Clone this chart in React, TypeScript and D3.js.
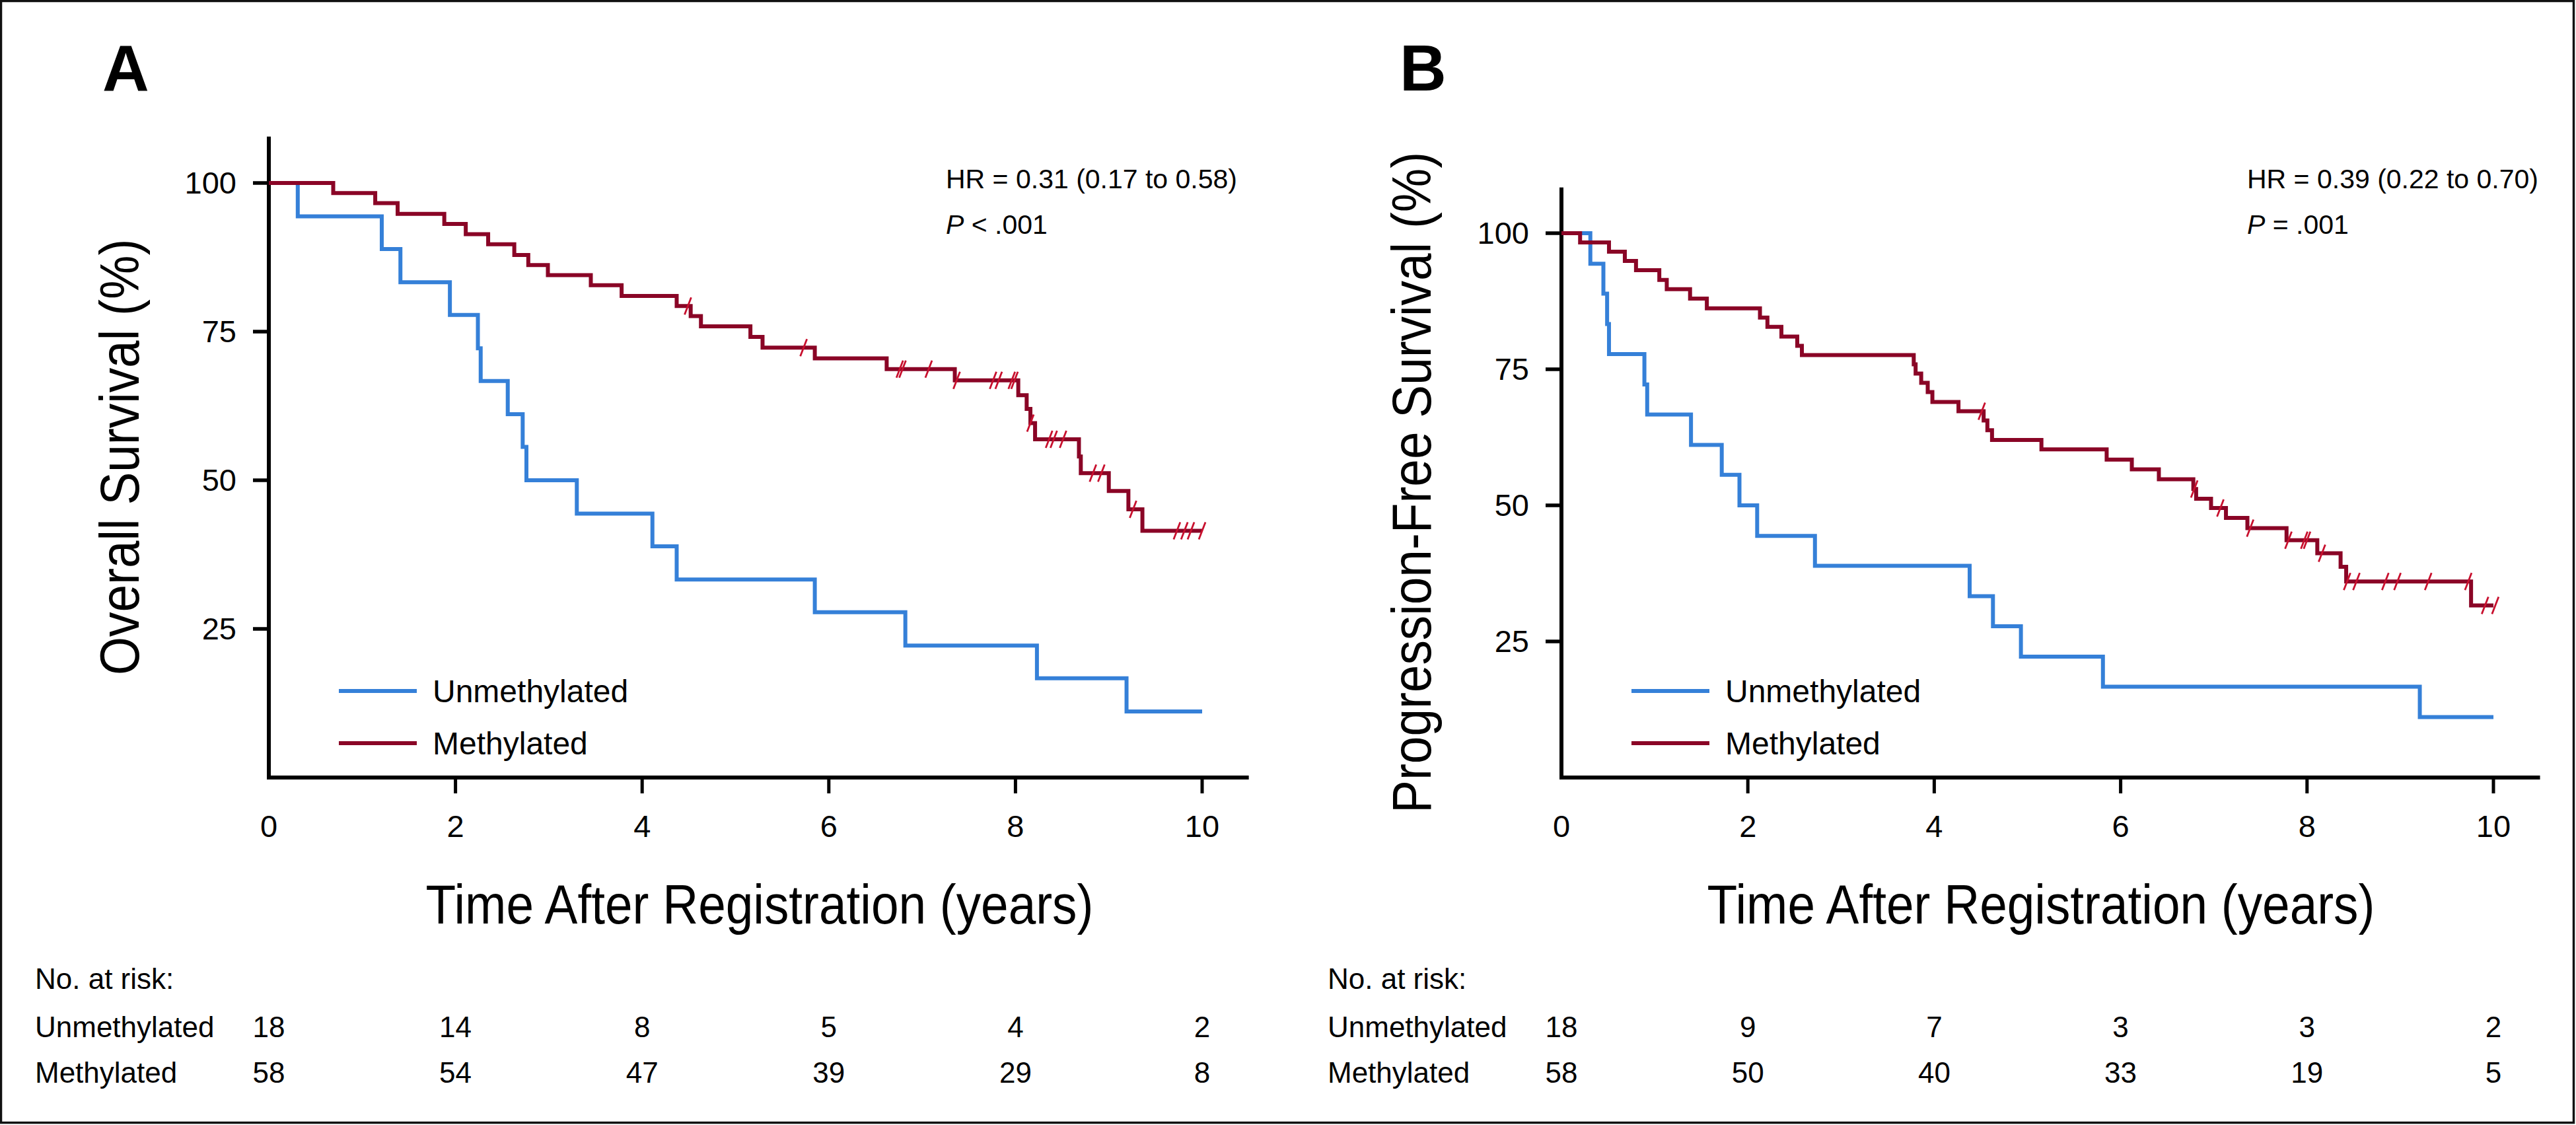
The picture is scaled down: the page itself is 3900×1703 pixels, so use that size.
import * as d3 from "d3";

// ---- data ----
const timeTicks = [0, 2, 4, 6, 8, 10];
const survTicks = [25, 50, 75, 100];
const groupNames = ["Unmethylated", "Methylated"];

// overall survival, [years, %] at each drop
const osUnmethylated: [number, number][] = [
  [0, 100], [0.31, 94.4], [1.21, 88.9], [1.41, 83.3], [1.94, 77.8], [2.24, 72.2],
  [2.27, 66.7], [2.56, 61.1], [2.72, 55.6], [2.76, 50.0], [3.3, 44.4], [4.11, 38.9],
  [4.37, 33.3], [5.85, 27.8], [6.82, 22.2], [8.23, 16.7], [9.19, 11.1], [10.0, 11.1],
];
const osMethylated: [number, number][] = [
  [0, 100], [0.69, 98.3], [1.14, 96.6], [1.38, 94.8], [1.88, 93.1], [2.11, 91.4],
  [2.35, 89.7], [2.63, 87.9], [2.78, 86.2], [2.99, 84.5], [3.45, 82.8], [3.78, 81.0],
  [4.37, 79.3], [4.52, 77.6], [4.63, 75.9], [5.16, 74.1], [5.29, 72.3], [5.85, 70.5],
  [6.62, 68.7], [7.35, 66.8], [8.03, 64.3], [8.12, 62.0], [8.16, 59.6], [8.21, 56.9],
  [8.68, 54.0], [8.7, 51.2], [9.0, 48.2], [9.21, 45.1], [9.36, 41.5], [10.0, 41.5],
];
const osMethylatedCensored = [
  4.49, 5.73, 6.76, 6.79, 7.07, 7.37, 7.76, 7.82, 7.96, 7.99, 8.16, 8.36, 8.41, 8.51,
  8.83, 8.92, 9.26, 9.73, 9.81, 9.88, 10.0,
];

// progression-free survival
const pfsUnmethylated: [number, number][] = [
  [0, 100], [0.31, 94.4], [0.45, 88.9], [0.49, 83.3], [0.51, 77.8], [0.89, 72.2],
  [0.92, 66.7], [1.39, 61.1], [1.72, 55.6], [1.91, 50.0], [2.1, 44.4], [2.72, 38.9],
  [4.38, 33.3], [4.63, 27.8], [4.93, 22.2], [5.81, 16.7], [9.21, 11.1], [10.0, 11.1],
];
const pfsMethylated: [number, number][] = [
  [0, 100], [0.2, 98.3], [0.51, 96.6], [0.68, 94.9], [0.8, 93.2], [1.05, 91.4],
  [1.13, 89.7], [1.38, 88.0], [1.56, 86.2], [2.13, 84.5], [2.21, 82.8], [2.36, 81.0],
  [2.53, 79.3], [2.58, 77.6], [3.78, 75.9], [3.8, 74.2], [3.86, 72.5], [3.93, 70.8],
  [3.98, 69.0], [4.26, 67.3], [4.53, 65.6], [4.57, 63.8], [4.62, 62.0], [5.15, 60.3],
  [5.85, 58.4], [6.12, 56.6], [6.41, 54.8], [6.78, 53.0], [6.81, 51.2], [6.97, 49.5],
  [7.13, 47.7], [7.36, 45.8], [7.78, 43.6], [8.11, 41.2], [8.36, 38.7], [8.42, 36.0],
  [9.76, 31.6], [10.0, 31.6],
];
const pfsMethylatedCensored = [
  4.51, 6.79, 7.07, 7.39, 7.8, 7.97, 8.0, 8.16, 8.43, 8.53, 8.84, 8.97, 9.3, 9.73,
  9.91, 10.02,
];

// numbers at risk at 0, 2, 4, 6, 8, 10 years
const osRiskUnmethylated = [18, 14, 8, 5, 4, 2];
const osRiskMethylated = [58, 54, 47, 39, 29, 8];
const pfsRiskUnmethylated = [18, 9, 7, 3, 3, 2];
const pfsRiskMethylated = [58, 50, 40, 33, 19, 5];

const blue = "#3580d8";
const red = "#8a0526";
const censorRed = "#c8102e";
const font = "'Liberation Sans', Arial, Helvetica, sans-serif";

const panels = [
  {
    letter: "A", letterX: 155, x0: 407, x10: 1820, y100: 277, yTop: 107.8,
    yTitle: "Overall Survival (%)", yTitleX: 210, xTitleX: 1150,
    hr: "HR = 0.31 (0.17 to 0.58)", pText: " < .001", hrX: 1432, riskX: 53,
    unmeth: osUnmethylated, meth: osMethylated, censored: osMethylatedCensored,
    riskU: osRiskUnmethylated, riskM: osRiskMethylated,
  },
  {
    letter: "B", letterX: 2119, x0: 2364, x10: 3775, y100: 353, yTop: 108.4,
    yTitle: "Progression-Free Survival (%)", yTitleX: 2166, xTitleX: 3090,
    hr: "HR = 0.39 (0.22 to 0.70)", pText: " = .001", hrX: 3402, riskX: 2010,
    unmeth: pfsUnmethylated, meth: pfsMethylated, censored: pfsMethylatedCensored,
    riskU: pfsRiskUnmethylated, riskM: pfsRiskMethylated,
  },
];

function stepValue(curve: [number, number][], t: number) {
  let v = curve[0][1];
  for (const [tt, s] of curve) if (tt <= t) v = s;
  return v;
}

function Panel({ p }: { p: (typeof panels)[number] }) {
  const x = d3.scaleLinear().domain([0, 10]).range([p.x0, p.x10]);
  const y = d3.scaleLinear().domain([0, 100]).range([1177, p.y100]);
  const line = d3
    .line<[number, number]>()
    .x((d) => x(d[0]))
    .y((d) => y(d[1]))
    .curve(d3.curveStepAfter);

  const yMid = (y(0) + y(p.yTop)) / 2;
  const legendRows = [
    { name: groupNames[0], color: blue, yy: 1046 },
    { name: groupNames[1], color: red, yy: 1125 },
  ];

  return (
    <g fontFamily={font}>
      <text x={p.letterX} y={137} fontSize={98} fontWeight="bold">{p.letter}</text>

      {/* axes */}
      <line x1={x(0)} x2={x(0)} y1={y(p.yTop)} y2={y(0) + 3} stroke="#000" strokeWidth={6} />
      <line x1={x(0) - 3} x2={x(10.5)} y1={y(0)} y2={y(0)} stroke="#000" strokeWidth={6} />
      {survTicks.map((t) => (
        <g key={"y" + t}>
          <line x1={x(0) - 24} x2={x(0)} y1={y(t)} y2={y(t)} stroke="#000" strokeWidth={5.5} />
          <text x={x(0) - 49} y={y(t) + 16} fontSize={47} textAnchor="end">{t}</text>
        </g>
      ))}
      {timeTicks.map((t) => (
        <g key={"x" + t}>
          {t > 0 && (
            <line x1={x(t)} x2={x(t)} y1={y(0)} y2={y(0) + 24} stroke="#000" strokeWidth={5} />
          )}
          <text x={x(t)} y={1267} fontSize={47} textAnchor="middle">{t}</text>
        </g>
      ))}

      <g transform={`translate(${p.xTitleX},1398) scale(0.89,1)`}>
        <text fontSize={84} textAnchor="middle">Time After Registration (years)</text>
      </g>
      <g transform={`translate(${p.yTitleX},${yMid}) rotate(-90) scale(0.89,1)`}>
        <text fontSize={84} textAnchor="middle">{p.yTitle}</text>
      </g>

      {/* HR and P */}
      <text x={p.hrX} y={285} fontSize={41}>{p.hr}</text>
      <text x={p.hrX} y={354} fontSize={41}>
        <tspan fontStyle="italic">P</tspan>{p.pText}
      </text>

      {/* curves */}
      <path d={line(p.unmeth) ?? ""} fill="none" stroke={blue} strokeWidth={6} strokeLinejoin="miter" />
      <path d={line(p.meth) ?? ""} fill="none" stroke={red} strokeWidth={6} strokeLinejoin="miter" />
      {p.censored.map((t, i) => {
        const cx = x(t);
        const cy = y(stepValue(p.meth, t));
        return (
          <line key={"c" + i} x1={cx - 5} y1={cy + 13} x2={cx + 5} y2={cy - 13}
            stroke={censorRed} strokeWidth={2.8} />
        );
      })}

      {/* legend */}
      {legendRows.map((r) => (
        <g key={r.name}>
          <line x1={x(0) + 106} x2={x(0) + 224} y1={r.yy} y2={r.yy} stroke={r.color} strokeWidth={6} />
          <text x={x(0) + 248} y={r.yy + 17} fontSize={48}>{r.name}</text>
        </g>
      ))}

      {/* numbers at risk */}
      <text x={p.riskX} y={1497} fontSize={44}>No. at risk:</text>
      <text x={p.riskX} y={1570} fontSize={44}>{groupNames[0]}</text>
      <text x={p.riskX} y={1639} fontSize={44}>{groupNames[1]}</text>
      {timeTicks.map((t, i) => (
        <g key={"r" + t}>
          <text x={x(t)} y={1570} fontSize={44} textAnchor="middle">{p.riskU[i]}</text>
          <text x={x(t)} y={1639} fontSize={44} textAnchor="middle">{p.riskM[i]}</text>
        </g>
      ))}
    </g>
  );
}

export default function App() {
  return (
    <svg width={3900} height={1703} style={{ position: "absolute", left: 0, top: 0, background: "#fff" }}>
      <rect x={0} y={0} width={3900} height={1703} fill="#fff" />
      <rect x={1.5} y={1.5} width={3895} height={1698} fill="none" stroke="#111" strokeWidth={3.5} />
      {panels.map((p) => (
        <Panel key={p.letter} p={p} />
      ))}
    </svg>
  );
}
